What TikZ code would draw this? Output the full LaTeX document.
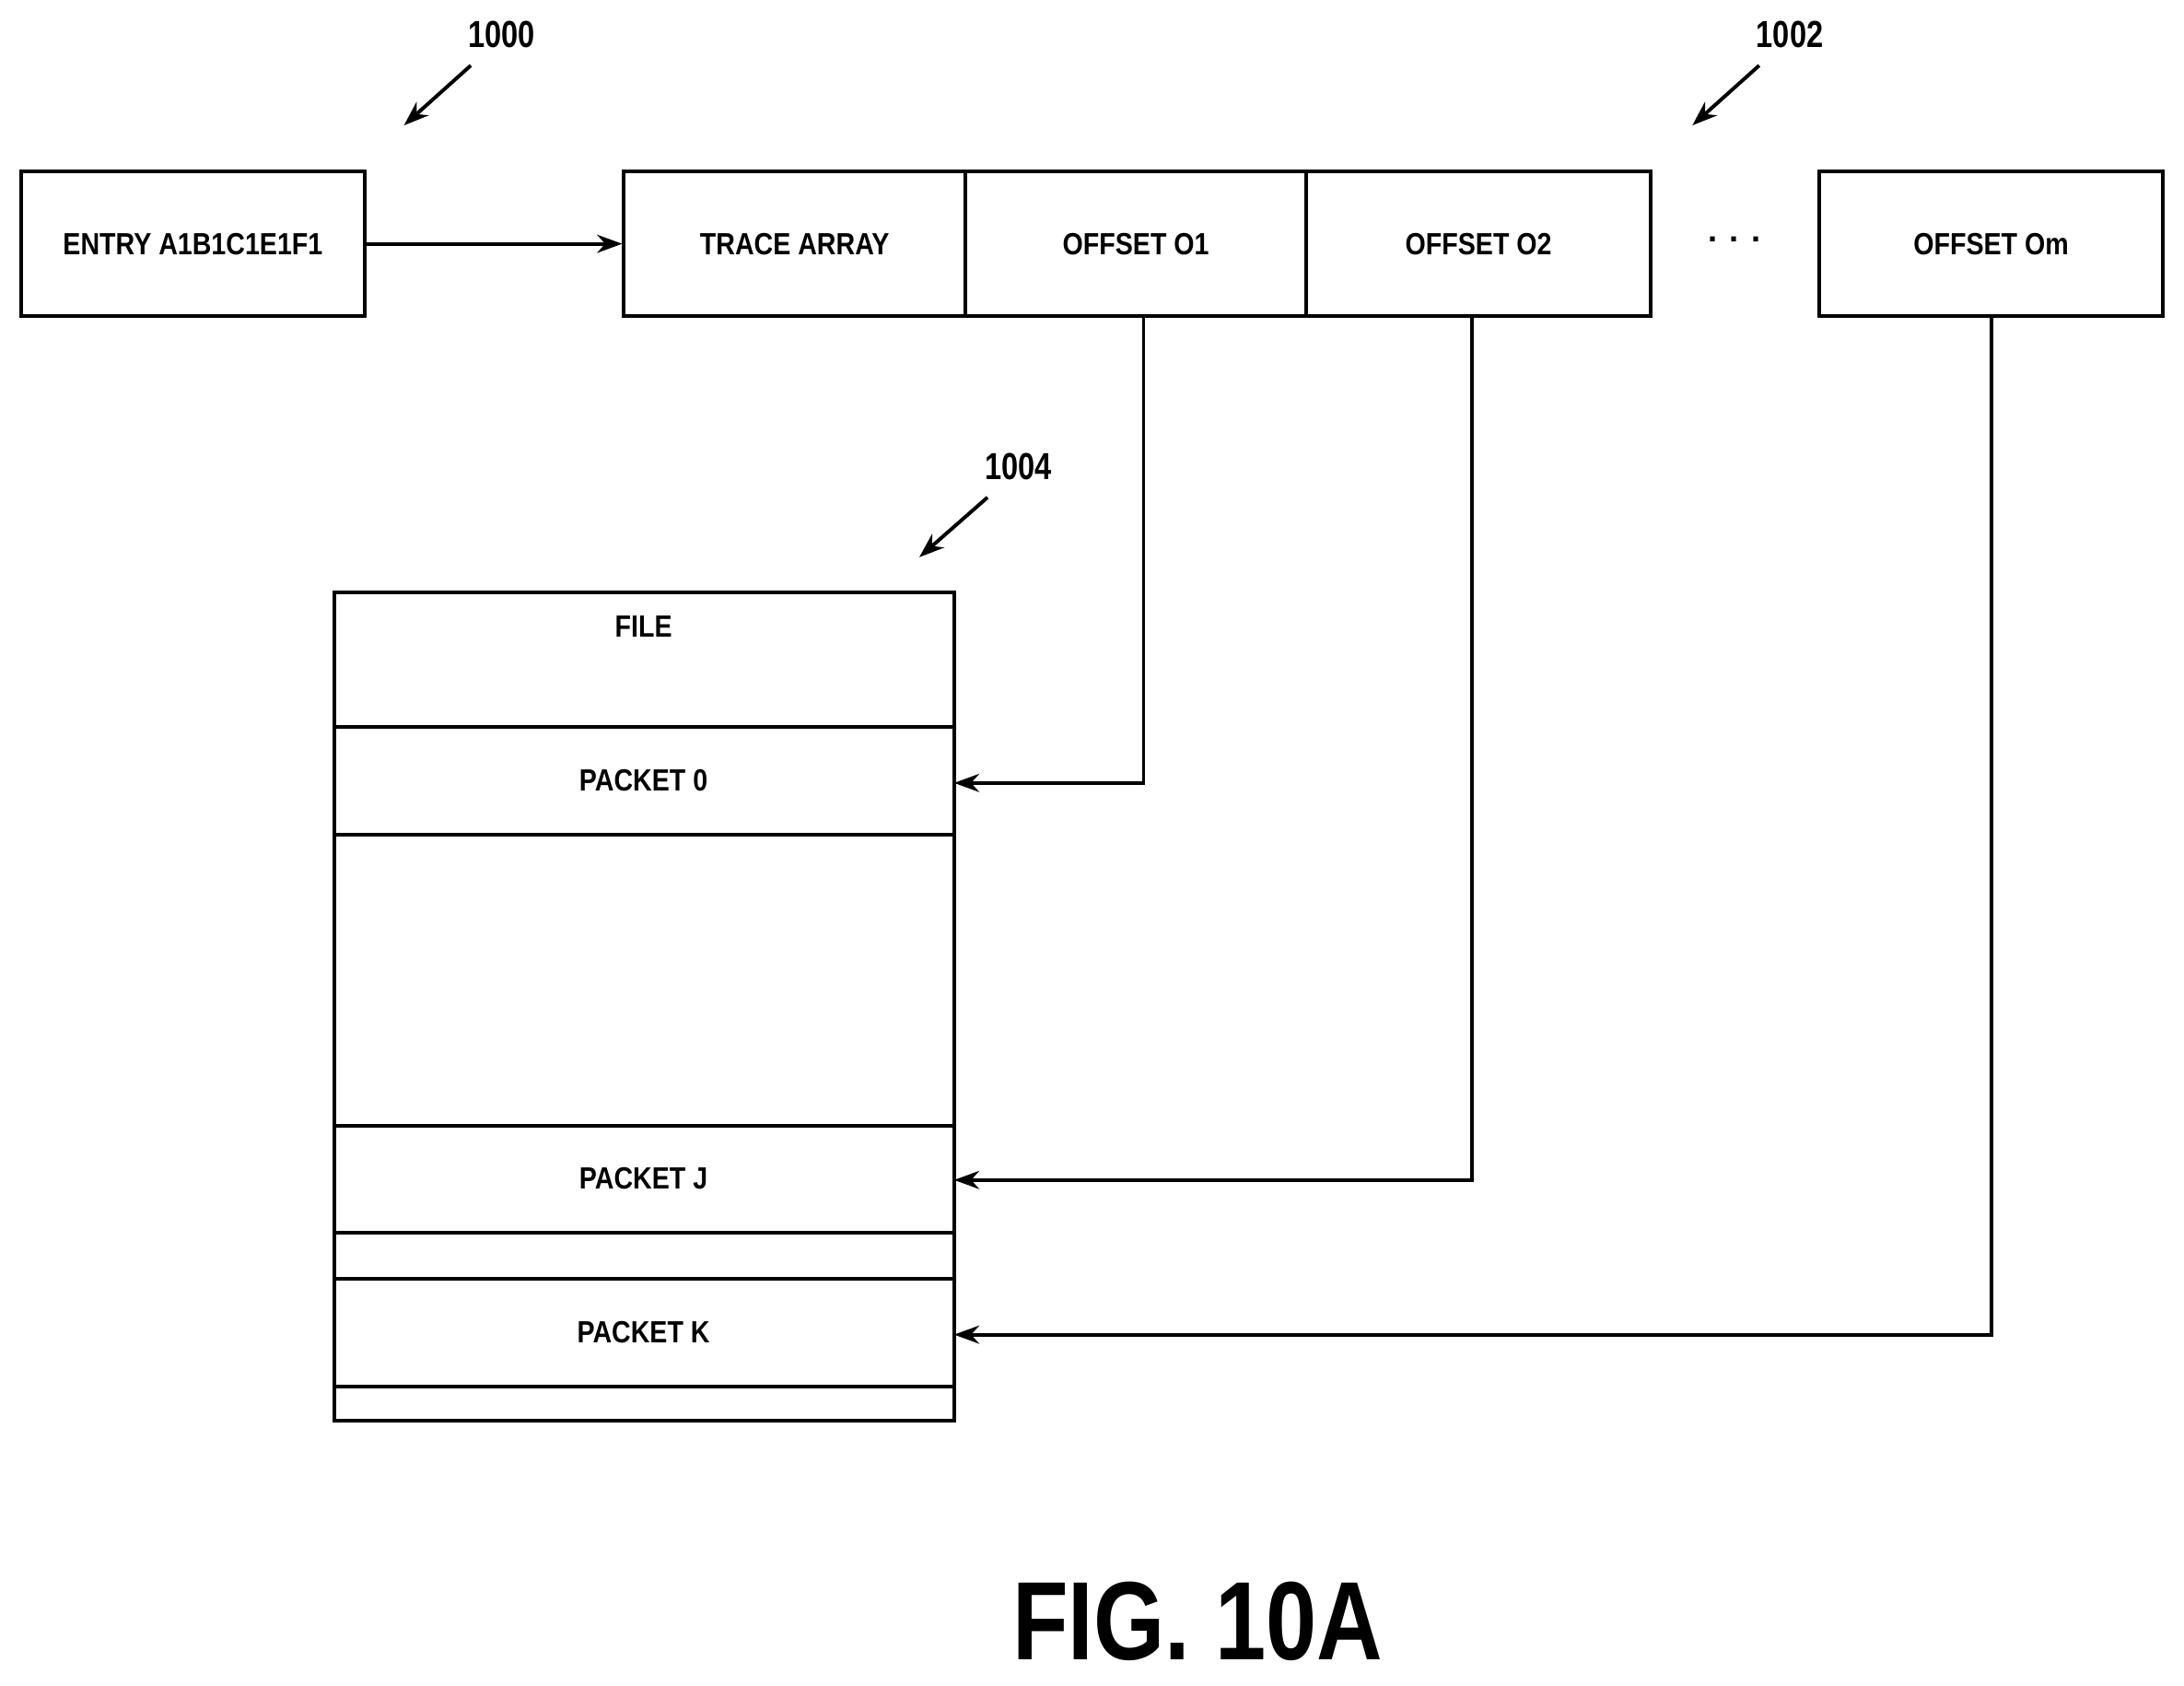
\documentclass[tikz,border=0pt]{standalone}
\usepackage{fontspec}
\setmainfont{Liberation Sans}
\usetikzlibrary{arrows.meta}
\begin{document}
\begin{tikzpicture}[x=1pt,y=-1pt,
  box/.style={draw,line width=2.6pt,minimum height=104pt,inner sep=0pt},
  txt/.style={font=\fontsize{22}{24}\selectfont\bfseries,xscale=0.86},
  lbl/.style={font=\fontsize{27}{29}\selectfont\bfseries,xscale=0.8},
  conn/.style={line width=2.6pt,-{Stealth[length=18pt,width=13pt]}}]
\useasboundingbox (0,0) rectangle (1568,1210);
\node[box,minimum width=247pt] (entry) at (138.5,175) {};
\node[txt] at (entry) {ENTRY A1B1C1E1F1};
\node[box,minimum width=245pt] (trace) at (570.5,175) {};
\node[txt] at (trace) {TRACE ARRAY};
\node[box,minimum width=245pt] (o1) at (815.5,175) {};
\node[txt] at (o1) {OFFSET O1};
\node[box,minimum width=247pt] (o2) at (1061.5,175) {};
\node[txt] at (o2) {OFFSET O2};
\node[box,minimum width=247pt] (om) at (1429.5,175) {};
\node[txt] at (om) {OFFSET Om};
\node[font=\fontsize{24}{26}\selectfont\bfseries] (dots) at (1245,172) {. . .};
\draw[conn] (entry.east) -- (trace.west);
% labels
\node[lbl] (l1000) at (360,25) {1000};
\coordinate (t1000) at (290,90);
\draw[conn] (338,47) -- (t1000);
\node[lbl] (l1002) at (1285,25) {1002};
\coordinate (t1002) at (1215,90);
\draw[conn] (1263,47) -- (t1002);
\node[lbl] (l1004) at (731,335) {1004};
\coordinate (t1004) at (660,400);
\draw[conn] (709,357) -- (t1004);
% file
\draw[line width=2.6pt] (240,425) rectangle (685,1020);
\foreach \y in {522,599,808,885,918,995} \draw[line width=2.6pt] (240,\y) -- (685,\y);
\node[txt] (file) at (462,450) {FILE};
\node[txt] (p0) at (462,560) {PACKET 0};
\node[txt] (pj) at (462,846) {PACKET J};
\node[txt] (pk) at (462,956) {PACKET K};
\coordinate (e0) at (685,562);
\coordinate (ej) at (685,847);
\coordinate (ek) at (685,958);
\draw[conn] (821,227) |- (e0);
\draw[conn] (1057,227) |- (ej);
\draw[conn] (om.south) |- (ek);
\node[font=\fontsize{80}{84}\selectfont\bfseries,xscale=0.82] (fig) at (860,1164) {FIG. 10A};
\end{tikzpicture}
\end{document}
